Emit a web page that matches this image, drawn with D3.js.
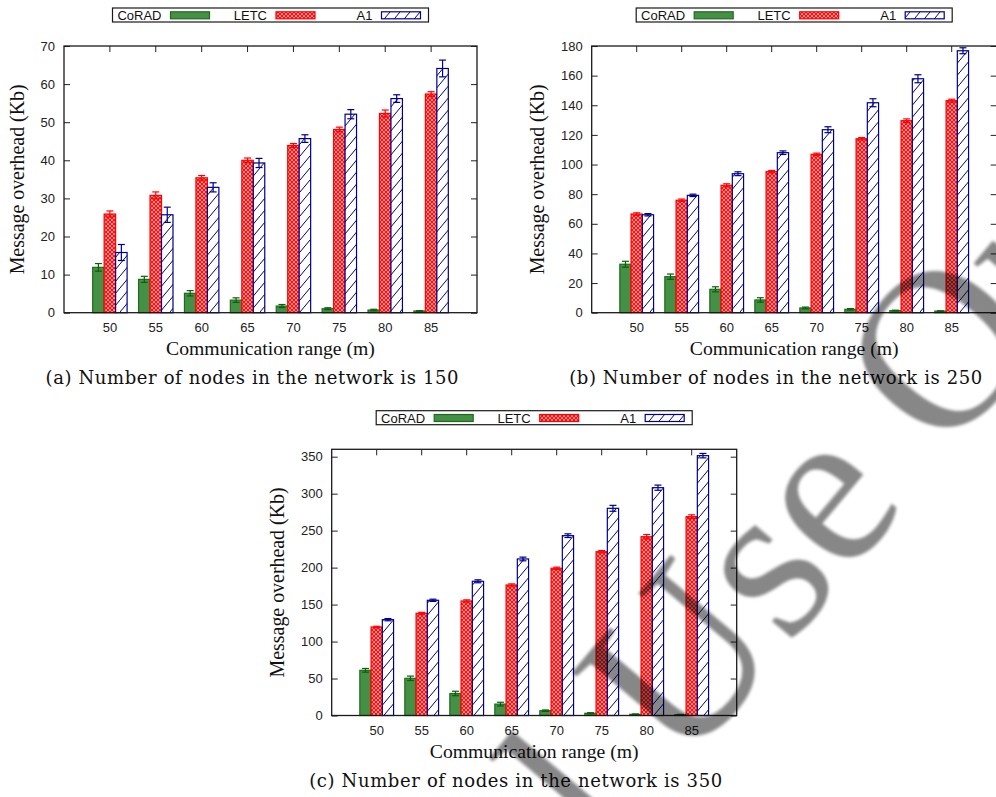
<!DOCTYPE html>
<html>
<head>
<meta charset="utf-8">
<script src="https://cdn.jsdelivr.net/npm/d3@7"></script>
<style>
  body { margin: 0; background: #fff; }
  svg { display: block; }
</style>
</head>
<body>
<svg id="chart" width="996" height="797"></svg>
<script>
// communication range categories (m)
const ranges = ['50', '55', '60', '65', '70', '75', '80', '85'];
const seriesNames = ['CoRAD', 'LETC', 'A1'];

// 150 nodes
const corad150 = [11.9, 8.75, 5.1, 3.3, 1.75, 1.05, 0.7, 0.45];
const letc150 = [25.9, 30.8, 35.4, 40.0, 43.9, 48.1, 52.3, 57.4];
const a1of150 = [15.8, 25.7, 32.9, 39.3, 45.7, 52.1, 56.2, 64.1];
const corad150Err = [1.0, 0.8, 0.7, 0.6, 0.4, 0.25, 0.2, 0.1];
const letc150Err = [0.8, 0.9, 0.6, 0.6, 0.5, 0.6, 0.9, 0.6];
const a1of150Err = [2.1, 2.0, 1.2, 1.2, 1.0, 1.2, 1.0, 2.2];

// 250 nodes
const corad250 = [32.7, 24.3, 15.8, 8.6, 3.2, 2.3, 1.4, 1.1];
const letc250 = [66.6, 75.9, 86.0, 95.2, 106.9, 117.4, 129.6, 143.1];
const a1of250 = [66.1, 79.2, 93.8, 108.0, 123.5, 141.7, 157.9, 176.8];
const corad250Err = [2.0, 1.8, 1.7, 1.5, 0.6, 0.5, 0.3, 0.2];
const letc250Err = [0.8, 0.8, 1.0, 0.8, 0.8, 0.8, 1.2, 1.0];
const a1of250Err = [0.8, 0.8, 1.3, 1.2, 2.0, 2.7, 2.7, 2.0];

// 350 nodes
const corad350 = [61.1, 50.3, 29.8, 15.4, 6.5, 3.0, 1.6, 1.1];
const letc350 = [119.7, 138.2, 154.9, 176.5, 199.1, 221.5, 241.8, 268.9];
const a1of350 = [129.6, 155.8, 181.5, 211.7, 243.2, 280.2, 308.1, 351.4];
const corad350Err = [2.5, 3.0, 3.0, 2.5, 1.0, 0.8, 0.5, 0.4];
const letc350Err = [1.0, 1.3, 1.5, 1.5, 1.5, 1.5, 3.0, 2.5];
const a1of350Err = [1.5, 1.5, 2.0, 2.5, 2.5, 4.0, 3.5, 3.0];

const svg = d3.select('#chart');
svg.append('rect').attr('width', 996).attr('height', 797).attr('fill', '#fff');

const defs = svg.append('defs');
const cross = defs.append('pattern').attr('id', 'crossRed')
  .attr('patternUnits', 'userSpaceOnUse').attr('width', 4).attr('height', 4);
cross.append('rect').attr('width', 4).attr('height', 4).attr('fill', '#ff1010');
[[2, 2], [0, 0], [4, 0], [0, 4], [4, 4]].forEach(([cx, cy]) =>
  cross.append('circle').attr('cx', cx).attr('cy', cy).attr('r', 0.85).attr('fill', '#fff'));

const hatch = defs.append('pattern').attr('id', 'hatchBlue')
  .attr('patternUnits', 'userSpaceOnUse').attr('width', 10).attr('height', 12);
hatch.append('rect').attr('width', 10).attr('height', 12).attr('fill', '#fff');
hatch.append('path').attr('d', 'M-1,13.2L11,-1.2M-2,1.2L1,-2.4M9,14.4L12,10.8')
  .attr('stroke', '#00008b').attr('stroke-width', 1);

defs.append('filter').attr('id', 'soft')
  .append('feGaussianBlur').attr('stdDeviation', 1.6);

const styles = {
  CoRAD: { fill: '#459045', stroke: '#1e6b1e', err: '#0a600a' },
  LETC: { fill: 'url(#crossRed)', stroke: '#ff0000', err: '#ff0000' },
  A1: { fill: 'url(#hatchBlue)', stroke: '#00008b', err: '#00008b' }
};

const panels = [
  { left: 64, right: 477, top: 46, bottom: 312.7, yMax: 70, yStep: 10, legendTop: 8, ylabOff: 40,
    values: [corad150, letc150, a1of150], errors: [corad150Err, letc150Err, a1of150Err],
    caption: '(a) Number of nodes in the network is 150' },
  { left: 591.7, right: 996.7, top: 46, bottom: 312.7, yMax: 180, yStep: 20, legendTop: 8, ylabOff: 48,
    values: [corad250, letc250, a1of250], errors: [corad250Err, letc250Err, a1of250Err],
    caption: '(b) Number of nodes in the network is 250' },
  { left: 331.7, right: 736.7, top: 449.3, bottom: 715.5, yMax: 360, yStep: 50, legendTop: 410.7, ylabOff: 48,
    values: [corad350, letc350, a1of350], errors: [corad350Err, letc350Err, a1of350Err],
    caption: '(c) Number of nodes in the network is 350' }
];

const sansFont = '"Liberation Sans", Arial, sans-serif';
const serifFont = '"Liberation Serif", "Times New Roman", serif';

panels.forEach(p => {
  const g = svg.append('g');
  const cx = (p.left + p.right) / 2;

  const x = d3.scaleBand().domain(ranges).range([p.left, p.right])
    .paddingInner(0.25).paddingOuter(0.625);
  const xs = d3.scaleBand().domain(seriesNames).range([0, x.bandwidth()]);
  const y = d3.scaleLinear().domain([0, p.yMax]).range([p.bottom, p.top]);
  const yTicks = d3.range(0, p.yMax + 0.001, p.yStep);

  // axes: ticks point inward, mirrored on top and right
  g.append('g').attr('transform', `translate(0,${p.bottom})`)
    .call(d3.axisBottom(x).tickSize(-6).tickPadding(10));
  g.append('g').attr('transform', `translate(0,${p.top})`)
    .call(d3.axisTop(x).tickSize(-6).tickFormat(''));
  g.append('g').attr('transform', `translate(${p.left},0)`)
    .call(d3.axisLeft(y).tickValues(yTicks).tickSize(-6).tickPadding(9));
  g.append('g').attr('transform', `translate(${p.right},0)`)
    .call(d3.axisRight(y).tickValues(yTicks).tickSize(-6).tickFormat(''));
  g.selectAll('.domain').remove();
  g.selectAll('.tick line').attr('stroke', '#222');
  g.selectAll('.tick text').attr('font-family', sansFont).attr('font-size', 13).attr('fill', '#222');

  // bars + error bars
  seriesNames.forEach((name, si) => {
    const st = styles[name];
    const vals = p.values[si];
    const errs = p.errors[si];
    g.append('g').selectAll('rect').data(vals).join('rect')
      .attr('x', (d, i) => x(ranges[i]) + xs(name))
      .attr('y', d => y(d))
      .attr('width', xs.bandwidth())
      .attr('height', d => p.bottom - y(d))
      .attr('fill', st.fill)
      .attr('stroke', st.stroke)
      .attr('stroke-width', 1.2);

    const eg = g.append('g').attr('stroke', st.err).attr('stroke-width', 1.2);
    vals.forEach((v, i) => {
      const bx = x(ranges[i]) + xs(name) + xs.bandwidth() / 2;
      const lo = y(v - errs[i]), hi = y(v + errs[i]);
      eg.append('line').attr('x1', bx).attr('x2', bx).attr('y1', lo).attr('y2', hi);
      eg.append('line').attr('x1', bx - 3.5).attr('x2', bx + 3.5).attr('y1', lo).attr('y2', lo);
      eg.append('line').attr('x1', bx - 3.5).attr('x2', bx + 3.5).attr('y1', hi).attr('y2', hi);
    });
  });

  // frame
  g.append('rect').attr('x', p.left).attr('y', p.top)
    .attr('width', p.right - p.left).attr('height', p.bottom - p.top)
    .attr('fill', 'none').attr('stroke', '#1a1a1a').attr('stroke-width', 1.3);

  // axis titles
  g.append('text').attr('x', cx).attr('y', p.bottom + 42.5)
    .attr('text-anchor', 'middle').attr('font-family', serifFont).attr('font-size', 19.7)
    .attr('fill', '#111').text('Communication range (m)');
  g.append('text')
    .attr('transform', `translate(${p.left - p.ylabOff},${(p.top + p.bottom) / 2}) rotate(-90)`)
    .attr('text-anchor', 'middle').attr('font-family', serifFont).attr('font-size', 19.9)
    .attr('fill', '#111').text('Message overhead (Kb)');

  // caption
  g.append('text').attr('x', cx - 18.5).attr('y', p.bottom + 71)
    .attr('text-anchor', 'middle').attr('font-family', '"DejaVu Serif", serif')
    .attr('font-size', 18).attr('textLength', 413).attr('fill', '#111').text(p.caption);

  // legend
  const lx = cx - 158, ly = p.legendTop;
  const lg = g.append('g');
  lg.append('rect').attr('x', lx).attr('y', ly).attr('width', 316).attr('height', 14)
    .attr('fill', '#fff').attr('stroke', '#1a1a1a').attr('stroke-width', 1.2);
  seriesNames.forEach((name, k) => {
    const st = styles[name];
    lg.append('text').attr('x', lx + 49 + 105.5 * k).attr('y', ly + 12)
      .attr('text-anchor', 'end').attr('font-family', sansFont).attr('font-size', 13)
      .attr('fill', '#111').text(name);
    lg.append('rect').attr('x', lx + 58 + 105.5 * k).attr('y', ly + 3.8)
      .attr('width', 39).attr('height', 7)
      .attr('fill', st.fill).attr('stroke', st.stroke).attr('stroke-width', 1.2);
  });
});

// watermark over the figure
const wm = svg.append('g')
  .attr('transform', 'translate(683,772) rotate(-50)')
  .attr('font-family', serifFont).attr('font-size', 226)
  .attr('fill', '#000').attr('fill-opacity', 0.47)
  .attr('filter', 'url(#soft)');
wm.append('text').attr('x', -56).attr('text-anchor', 'end').text('For Personal');
wm.append('text').attr('x', 0).text('Use Only');
</script>
</body>
</html>
